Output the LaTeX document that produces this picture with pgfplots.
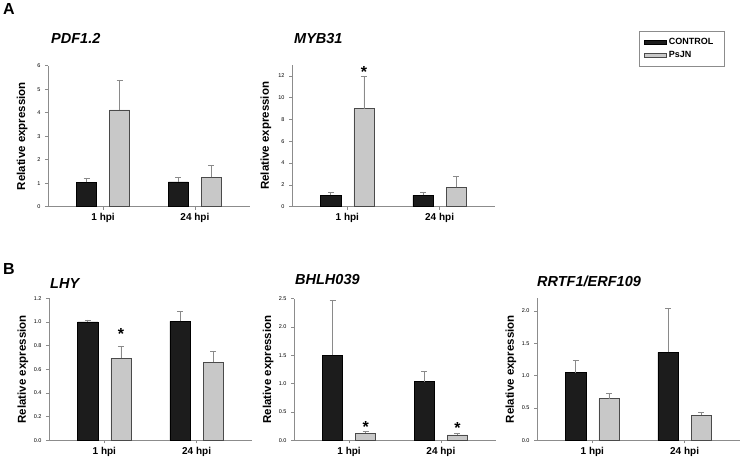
\documentclass[border=0pt]{standalone}
\usepackage{pgfplots}
\pgfplotsset{compat=1.18}
\usepackage{fontspec}
\setmainfont{Liberation Sans}
\definecolor{barblack}{HTML}{1C1C1C}
\definecolor{bargray}{HTML}{C8C8C8}
\definecolor{edgegray}{HTML}{4A4A4A}
\definecolor{errgray}{HTML}{8A8A8A}
\definecolor{axgray}{HTML}{8C8C8C}
\newcommand{\titlefont}{\fontsize{14.5}{16}\selectfont\bfseries\itshape}
\newcommand{\starfont}{\fontsize{16}{18}\selectfont\bfseries}
\pgfplotsset{
  panel/.style={
    scale only axis, clip=false,
    axis lines*=left,
    axis line style={draw=axgray, line width=0.6pt},
    tick style={draw=axgray, line width=0.5pt},
    tick align=outside, major tick length=3pt,
    xmin=-0.6, xmax=1.6, ymin=0,
    xtick={0,1}, xticklabels={1 hpi,24 hpi},
    xticklabel style={font=\fontsize{10}{12}\selectfont\bfseries},
    yticklabel style={font=\fontsize{5.5}{6}\selectfont, xshift=-1pt},
    /pgf/number format/assume math mode=true,
    ylabel={Relative expression},
    every axis y label/.style={at={(axis description cs:-0.128,0.5)}, rotate=90, anchor=center, font=\fontsize{11.5}{13}\selectfont\bfseries},
    ybar, bar width=0.22,
  },
  ctrl/.style={fill=barblack, draw=black, line width=0.5pt, bar shift=-0.18,
     error bars/.cd, y dir=plus, y explicit,
     error bar style={draw=errgray, line width=0.6pt},
     error mark options={rotate=90, mark size=3pt, draw=errgray, line width=0.6pt}},
  trt/.style={fill=bargray, draw=edgegray, line width=0.6pt, bar shift=0.18,
     error bars/.cd, y dir=plus, y explicit,
     error bar style={draw=errgray, line width=0.6pt},
     error mark options={rotate=90, mark size=3pt, draw=errgray, line width=0.6pt}},
  onedec/.style={yticklabel style={/pgf/number format/.cd, fixed, fixed zerofill, precision=1}},
}
\begin{document}
\begin{tikzpicture}
\useasboundingbox (0pt,0pt) rectangle (740pt,459pt);
\node[anchor=base west, inner sep=0, font=\fontsize{16}{18}\selectfont\bfseries] at (3pt,444pt) {A};
\node[anchor=base west, inner sep=0, font=\fontsize{16}{18}\selectfont\bfseries] at (3pt,185pt) {B};

% PDF1.2
\begin{axis}[panel, at={(48pt,252.3pt)}, anchor=south west, width=202pt, height=141pt, ymax=6, ytick={0,1,2,3,4,5,6}]
\addplot[ctrl] coordinates {(0,1.03) +- (0,0.17) (1,1.06) +- (0,0.20)};
\addplot[trt] coordinates {(0,4.12) +- (0,1.28) (1,1.25) +- (0,0.53)};
\node[anchor=base west, inner sep=0, font=\titlefont, yshift=22pt, xshift=3pt] at (rel axis cs:0,1) {PDF1.2};
\end{axis}

% MYB31
\begin{axis}[panel, at={(292pt,252.3pt)}, anchor=south west, width=203pt, height=141.7pt, ymax=13, ytick={0,2,4,6,8,10,12},
  legend style={at={(1.709,1.24)}, anchor=north west, draw=axgray, line width=0.6pt,
    font=\fontsize{9}{10}\selectfont\bfseries, inner xsep=5pt, inner ysep=5pt, row sep=1.5pt},
  legend cell align=left,
  legend image code/.code={\path[#1] (0pt,-2pt) rectangle (22pt,2pt);}]
\addplot[ctrl] coordinates {(0,1.04) +- (0,0.24) (1,1.05) +- (0,0.23)};
\addlegendentry{CONTROL\hspace*{4pt}}
\addplot[trt] coordinates {(0,9.0) +- (0,3.0) (1,1.78) +- (0,0.97)};
\addlegendentry{PsJN}
\node[anchor=base west, inner sep=0, font=\titlefont, yshift=22pt, xshift=2pt] at (rel axis cs:0,1) {MYB31};
\node[anchor=base, inner sep=0, font=\starfont, yshift=-7.5pt] at (axis cs:0.18,12.54) {*};
\end{axis}

% LHY
\begin{axis}[panel, onedec, at={(49pt,18.7pt)}, anchor=south west, width=203pt, height=142pt, ymax=1.2, ytick={0,0.2,0.4,0.6,0.8,1.0,1.2}]
\addplot[ctrl] coordinates {(0,1.0) +- (0,0.017) (1,1.005) +- (0,0.082)};
\addplot[trt] coordinates {(0,0.695) +- (0,0.10) (1,0.66) +- (0,0.093)};
\node[anchor=base west, inner sep=0, font=\titlefont, yshift=10pt, xshift=1pt] at (rel axis cs:0,1) {LHY};
\node[anchor=base, inner sep=0, font=\starfont, yshift=-7.5pt] at (axis cs:0.18,0.918) {*};
\end{axis}

% BHLH039
\begin{axis}[panel, onedec, at={(294pt,18.7pt)}, anchor=south west, width=202pt, height=141.6pt, ymax=2.5, ytick={0,0.5,1.0,1.5,2.0,2.5}]
\addplot[ctrl] coordinates {(0,1.5) +- (0,0.97) (1,1.035) +- (0,0.175)};
\addplot[trt] coordinates {(0,0.125) +- (0,0.035) (1,0.095) +- (0,0.03)};
\node[anchor=base west, inner sep=0, font=\titlefont, yshift=14pt, xshift=1pt] at (rel axis cs:0,1) {BHLH039};
\node[anchor=base, inner sep=0, font=\starfont, yshift=-7.5pt] at (axis cs:0.18,0.27) {*};
\node[anchor=base, inner sep=0, font=\starfont, yshift=-7.5pt] at (axis cs:1.18,0.26) {*};
\end{axis}

% RRTF1/ERF109
\begin{axis}[panel, onedec, at={(537pt,18.7pt)}, anchor=south west, width=203pt, height=142.3pt, ymax=2.2, ytick={0,0.5,1.0,1.5,2.0}]
\addplot[ctrl] coordinates {(0,1.045) +- (0,0.195) (1,1.36) +- (0,0.68)};
\addplot[trt] coordinates {(0,0.645) +- (0,0.085) (1,0.39) +- (0,0.04)};
\node[anchor=base west, inner sep=0, font=\titlefont, yshift=12pt] at (rel axis cs:0,1) {RRTF1/ERF109};
\end{axis}
\end{tikzpicture}
\end{document}
